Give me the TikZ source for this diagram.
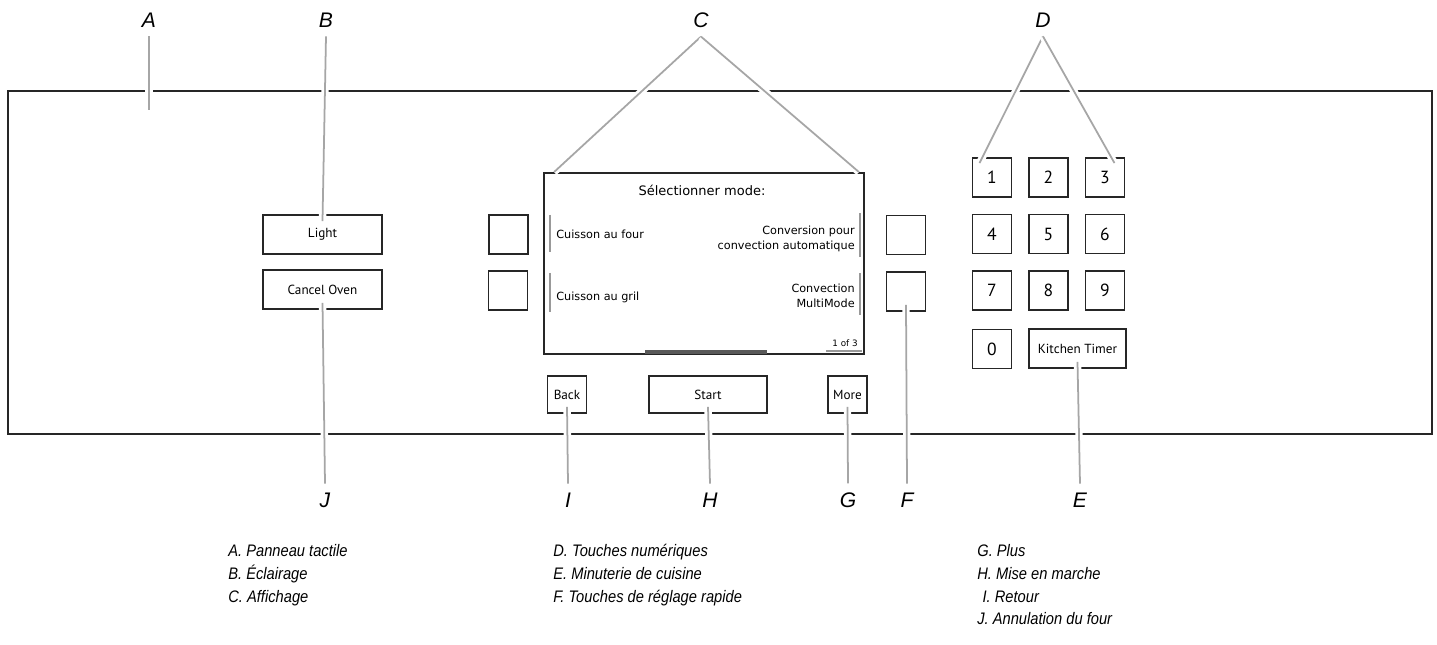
\documentclass[tikz,border=0pt]{standalone}
\usepackage{fontspec}
\setmainfont{Liberation Sans}
\newfontfamily\keyfont{PT Sans}
\newfontfamily\screenfont{DejaVu Sans}
\newfontfamily\legendfont[FakeStretch=0.88]{Liberation Sans}
\usepackage{tikz}
\tikzstyle{panel} = [draw=black!85, line width=1.1pt, inner sep=0pt]
\tikzstyle{keybox} = [draw=black!85, line width=1.1pt, fill=white, inner sep=0pt, minimum size=0.78cm, text centered, font=\keyfont\fontsize{7.5}{9}\selectfont]
\tikzstyle{digitkey} = [keybox, font=\keyfont\fontsize{10}{12}\selectfont]
\tikzstyle{callout} = [inner sep=5pt, font=\fontsize{12}{14}\selectfont\itshape]
\tikzstyle{leader} = [preaction={draw=white, line width=4.2pt}, draw=black!35, line width=1pt]
\tikzstyle{strip} = [draw=black!40, line width=1.1pt]
\tikzstyle{screentext} = [inner sep=0pt, font=\screenfont\fontsize{6.4}{8.6}\selectfont]
\tikzstyle{legend} = [inner sep=0pt, anchor=north west, align=left, font=\legendfont\itshape\fontsize{9.5}{13}\selectfont]

\begin{document}
\begin{tikzpicture}[x=0.02cm, y=-0.02cm]
\useasboundingbox (0,0) rectangle (1437,645);

\node[panel, minimum width=28.48cm, minimum height=6.86cm] (panel) at (720,262.5) {};
\node[panel, minimum width=6.4cm, minimum height=3.62cm] (screen) at (704,263.5) {};

\node[screentext, font=\screenfont\fontsize{7.4}{9}\selectfont] (title) at (702,190) {Sélectionner mode:};
\node[screentext, anchor=west] (bake) at (556,234) {Cuisson au four};
\node[screentext, anchor=east, align=right] (convert) at (855,239) {Conversion pour\\convection automatique};
\node[screentext, anchor=west] (broil) at (556,297) {Cuisson au gril};
\node[screentext, anchor=east, align=right] (multi) at (855,296) {Convection\\MultiMode};
\node[screentext, anchor=east, font=\screenfont\fontsize{5}{6}\selectfont] (page) at (858,343) {1 of 3};

\draw[strip] (550,215) -- (550,252);
\draw[strip] (550,273) -- (550,312);
\draw[strip] (860,213) -- (860,257);
\draw[strip] (860,273) -- (860,315);
\draw[strip] (826,351) -- (862,351);
\draw[strip, draw=black!65, line width=2pt] (645,352) -- (767,352);

\node[keybox, minimum width=2.38cm] (light) at (322.5,234.5) {Light};
\node[keybox, minimum width=2.38cm] (cancel) at (322.5,289.5) {Cancel Oven};
\node[keybox] (bakekey) at (508.5,234.5) {};
\node[keybox] (broilkey) at (508,290.5) {};
\node[keybox] (convertkey) at (906,235) {};
\node[keybox] (multikey) at (906,291.5) {};
\node[keybox, minimum height=0.74cm] (back) at (567,394.5) {Back};
\node[keybox, minimum width=2.36cm, minimum height=0.74cm] (start) at (708,394.5) {Start};
\node[keybox, minimum height=0.74cm] (more) at (847.5,394.5) {More};

\node[digitkey] (k1) at (992,177.5) {1};
\node[digitkey] (k2) at (1048.5,177.5) {2};
\node[digitkey] (k3) at (1105,177.5) {3};
\node[digitkey] (k4) at (992,234) {4};
\node[digitkey] (k5) at (1048.5,234) {5};
\node[digitkey] (k6) at (1105,234) {6};
\node[digitkey] (k7) at (992,290.5) {7};
\node[digitkey] (k8) at (1048.5,290.5) {8};
\node[digitkey] (k9) at (1105,290.5) {9};
\node[digitkey] (k0) at (992,349) {0};
\node[keybox, minimum width=1.94cm] (timer) at (1077.5,348.5) {Kitchen Timer};

\node[callout] (lA) at (149,20) {A};
\node[callout] (lB) at (326,20) {B};
\node[callout] (lC) at (701,20) {C};
\node[callout] (lD) at (1043,20) {D};
\node[callout] (lJ) at (325,500) {J};
\node[callout] (lI) at (568,500) {I};
\node[callout] (lH) at (710,500) {H};
\node[callout] (lG) at (848,500) {G};
\node[callout] (lF) at (907,500) {F};
\node[callout] (lE) at (1080,500) {E};
\coordinate (aend) at (149,110);

\draw[leader] (lA.south) to (aend);
\draw[leader] (lB.south) to ([yshift=-0.14cm]light.north);
\draw[leader] (lC.south) to ([xshift=0.22cm]screen.north west);
\draw[leader] (lC.south) to ([xshift=-0.12cm]screen.north east);
\draw[leader] (lD.south) to ([xshift=0.16cm,yshift=-0.12cm]k1.north west);
\draw[leader] (lD.south) to ([xshift=-0.22cm,yshift=-0.12cm]k3.north east);
\draw[leader] ([yshift=0.14cm]cancel.south) to (lJ.north);
\draw[leader] ([yshift=0.14cm]back.south) to (lI.north);
\draw[leader] ([yshift=0.14cm]start.south) to (lH.north);
\draw[leader] ([yshift=0.14cm]more.south) to (lG.north);
\draw[leader] ([yshift=0.14cm]multikey.south) to (lF.north);
\draw[leader] ([yshift=0.14cm]timer.south) to (lE.north);

\node[legend] (keyAC) at (228,544) {A.\ Panneau tactile\\B.\ Éclairage\\C.\ Affichage};
\node[legend] (keyDF) at (553,544) {D.\ Touches numériques\\E.\ Minuterie de cuisine\\F.\ Touches de réglage rapide};
\node[legend] (keyGJ) at (977,544) {G.\ Plus\\H.\ Mise en marche\\\hspace*{3pt}I.\ Retour\\J.\ Annulation du four};

\end{tikzpicture}
\end{document}
